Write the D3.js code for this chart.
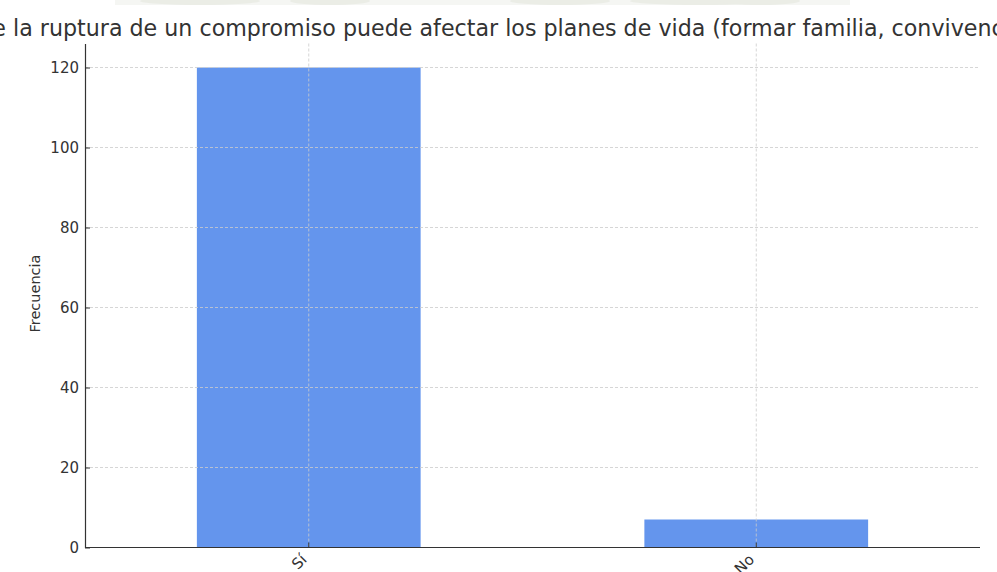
<!DOCTYPE html>
<html>
<head>
<meta charset="utf-8">
<script src="https://cdn.jsdelivr.net/npm/d3@7"></script>
<style>
  html, body { margin: 0; padding: 0; background: #fff; }
  svg { display: block; font-family: "DejaVu Sans", sans-serif; }
</style>
</head>
<body>
<svg id="chart" width="997" height="572"></svg>
<script>
const categories = ["Sí", "No"];
const values = [120, 7];
const yTicks = [0, 20, 40, 60, 80, 100, 120];
const titleText = "¿Cree que la ruptura de un compromiso puede afectar los planes de vida (formar familia, convivencia, etc.)?";
const yLabel = "Frecuencia";

const svg = d3.select("#chart");
const m = { left: 85, right: 980, top: 43.5, bottom: 547.5 };

// faint watermark strip at top
const wm = svg.append("g").attr("opacity", 0.5);
wm.append("rect").attr("x", 115).attr("y", 0).attr("width", 735).attr("height", 5).attr("fill", "#eceee9");
[[200, 60], [330, 40], [560, 50], [700, 70], [760, 40]].forEach(([cx, rx]) => {
  wm.append("ellipse").attr("cx", cx).attr("cy", 1).attr("rx", rx).attr("ry", 4).attr("fill", "#d8dccf");
});

const x = d3.scaleBand().domain(categories).range([m.left, m.right]).paddingInner(0.5).paddingOuter(0.25);
const y = d3.scaleLinear().domain([0, 126]).range([m.bottom, m.top]);

// bars
svg.append("g").selectAll("rect").data(categories).join("rect")
  .attr("x", d => x(d)).attr("width", x.bandwidth())
  .attr("y", (d, i) => y(values[i])).attr("height", (d, i) => y(0) - y(values[i]))
  .attr("fill", "#6495ED");

// grid (drawn above bars)
const grid = svg.append("g");
grid.selectAll("line.h").data(yTicks).join("line")
  .attr("x1", m.left).attr("x2", m.right)
  .attr("y1", d => y(d)).attr("y2", d => y(d))
  .attr("stroke", "#cccccc").attr("stroke-width", 0.8).attr("stroke-dasharray", "3,2");
grid.selectAll("line.v").data(categories).join("line")
  .attr("x1", d => x(d) + x.bandwidth() / 2).attr("x2", d => x(d) + x.bandwidth() / 2)
  .attr("y1", m.top).attr("y2", m.bottom)
  .attr("stroke", "#cccccc").attr("stroke-width", 0.8).attr("stroke-dasharray", "3,2");

// y axis
const yAxis = svg.append("g").attr("transform", `translate(${m.left},0)`)
  .call(d3.axisLeft(y).tickValues(yTicks).tickSizeInner(-5).tickSizeOuter(0).tickPadding(6));
yAxis.select(".domain").attr("stroke", "#333").attr("stroke-width", 1.2);
yAxis.selectAll(".tick line").attr("stroke", "#333").attr("stroke-width", 1);
yAxis.selectAll(".tick text").attr("fill", "#333").style("font-size", "15px").style("font-family", "DejaVu Sans").attr("x", -6);

// x axis
const xAxis = svg.append("g").attr("transform", `translate(0,${m.bottom})`)
  .call(d3.axisBottom(x).tickSizeInner(-5).tickSizeOuter(0).tickPadding(0));
xAxis.select(".domain").attr("stroke", "#333").attr("stroke-width", 1.2)
  .attr("d", `M${m.left},0H${m.right}`);
xAxis.selectAll(".tick line").attr("stroke", "#333").attr("stroke-width", 1);
xAxis.selectAll(".tick text").attr("fill", "#333").style("font-size", "15px").style("font-family", "DejaVu Sans")
  .attr("text-anchor", "end").attr("dy", null).attr("y", 0)
  .attr("transform", "translate(-1,13) rotate(-45)");

// y label
svg.append("text").attr("transform", `translate(40,${(m.top + m.bottom) / 2 - 2}) rotate(-90)`)
  .attr("text-anchor", "middle").attr("fill", "#333").style("font-size", "14.5px").text(yLabel);

// title: size and position so that "la ruptura" starts and "convivenc" ends where they do in the reference
const t = svg.append("text").attr("y", 36).attr("fill", "#333").style("font-size", "22px").text(titleText);
const i0 = titleText.indexOf("la ruptura");
const i1 = titleText.indexOf("convivencia") + 8; // the 9th letter ("c") begins near the right edge
let span = t.node().getSubStringLength(i0, i1 - i0);
const fs = 22 * 979 / span;
t.style("font-size", fs + "px");
const pre = t.node().getSubStringLength(0, i0);
t.attr("x", 13 - pre);
</script>
</body>
</html>
